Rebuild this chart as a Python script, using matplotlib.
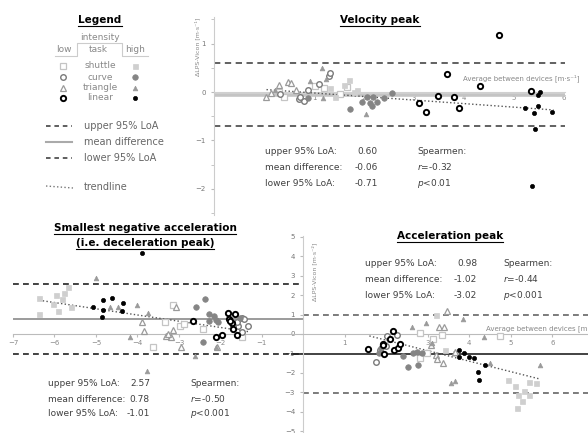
import numpy as np
import matplotlib
matplotlib.use("Agg")
import matplotlib.pyplot as plt
from matplotlib.ticker import MultipleLocator, FixedLocator

W, H = 588, 433

# ── Dados: (média entre dispositivos, diferença LPS-Vicon) ───────────────────
# Velocity peak [m/s]
vel_shuttle_lo = [(0.39, -0.10), (1.02, 0.12), (1.20, 0.08), (1.52, -0.04), (1.65, 0.10), (0.29, 0.01)]
vel_shuttle_hi = [(1.70, 0.25), (1.59, 0.14), (1.42, -0.10), (1.79, 0.01), (1.85, 0.05), (1.32, 0.08)]
vel_curve_lo = [(0.87, 0.04), (1.09, 0.16), (1.30, 0.34), (1.32, 0.40), (0.70, -0.15),
                (0.79, -0.18), (0.72, -0.10), (0.32, -0.04)]
vel_curve_hi = [(1.72, -0.36), (1.95, -0.20), (2.05, -0.10), (2.12, -0.23), (2.15, -0.29),
                (2.17, -0.10), (2.25, -0.20), (2.39, -0.12), (2.55, -0.01), (0.87, -0.13)]
vel_triangle_lo = [(0.04, -0.11), (0.30, 0.14), (0.47, 0.20), (0.53, 0.18), (0.63, 0.05), (0.13, -0.03)]
vel_triangle_hi = [(1.15, 0.49), (0.91, 0.23), (1.17, -0.13), (1.23, 0.27), (2.04, -0.46), (0.22, 0.05)]
vel_linear_lo = [(3.09, -0.23), (3.23, -0.42), (3.47, -0.08), (3.79, -0.11), (3.89, -0.34),
                 (3.65, 0.37), (4.32, 0.12), (4.70, 1.18), (5.34, 0.03)]
vel_linear_hi = [(5.22, -0.34), (5.40, -0.43), (5.47, -0.06), (5.47, -0.29), (5.52, 0.01),
                 (5.42, -0.77), (5.35, -1.94), (5.75, -0.42)]
vel_trend = [(0.05, 0.05), (5.79, -0.37)]
vel_loa = [0.60, -0.06, -0.71]          # upper, mean, lower
vel_spearman = ["-0.32", "<0.01"]

# Smallest negative acceleration [m/s²]
dec_shuttle_lo = [(-3.15, 1.49), (-3.62, -0.65), (-3.34, 0.63), (-2.98, 0.41), (-2.43, 0.24),
                  (-1.49, -0.17), (-2.88, 0.51)]
dec_shuttle_hi = [(-6.37, 1.88), (-5.96, 2.00), (-5.83, 1.78), (-5.77, 2.12), (-5.67, 2.43),
                  (-6.04, 1.57), (-5.91, 1.20), (-6.37, 1.03), (-5.59, 1.40)]
dec_curve_lo = [(-1.57, 0.41), (-1.49, 0.80), (-1.43, 0.79), (-1.33, 0.41), (-1.49, 0.12),
                (-1.69, 0.41), (-1.61, 0.63)]
dec_curve_hi = [(-2.36, 1.78), (-2.60, 1.37), (-2.27, 1.03), (-2.15, 0.92), (-2.27, 0.68),
                (-2.11, 0.72), (-2.05, 0.63), (-2.41, -0.39), (-1.53, 0.85)]
dec_triangle_lo = [(-3.06, 1.37), (-3.88, 0.63), (-3.84, 0.15), (-3.30, -0.10), (-3.18, -0.17),
                   (-3.14, 0.21), (-3.26, 0.00), (-2.94, -0.68), (-2.09, -0.68)]
dec_triangle_hi = [(-5.00, 2.91), (-4.46, 1.37), (-4.00, 1.49), (-3.74, 1.06), (-4.18, -0.14),
                   (-4.66, 1.37), (-2.61, -1.13), (-3.78, -1.93), (-2.11, -0.65)]
dec_linear_lo = [(-2.67, 0.68), (-2.11, -0.17), (-1.97, -0.05), (-1.81, 1.06), (-1.65, 1.03),
                 (-1.80, 0.75), (-1.73, 0.55), (-1.69, 0.24), (-1.60, -0.05), (-1.77, 0.68)]
dec_linear_hi = [(-3.90, 4.17), (-5.08, 1.37), (-4.84, 1.74), (-4.62, 1.88), (-4.34, 1.61),
                 (-4.82, 1.23), (-4.86, 0.89), (-4.38, 1.20)]
dec_trend = [(-6.37, 1.74), (-1.32, 0.12)]
dec_loa = [2.57, 0.78, -1.01]
dec_spearman = ["-0.50", "<0.001"]

# Acceleration peak [m/s²]
acc_shuttle_lo = [(2.81, 0.07), (3.13, -0.27), (2.82, -1.25), (3.33, -0.05), (4.75, -0.09), (2.97, -0.99)]
acc_shuttle_hi = [(3.19, 0.97), (3.41, -0.82), (3.65, -0.99), (4.93, -2.39), (5.10, -2.70),
                  (5.18, -3.13), (5.28, -3.47), (5.14, -3.81), (5.44, -3.13), (5.44, -2.48),
                  (5.60, -2.53), (5.31, -2.96)]
acc_curve_lo = [(1.75, -1.42), (1.84, -0.85), (1.99, -0.62), (2.02, -0.10), (2.25, -0.05)]
acc_curve_hi = [(1.83, -0.99), (1.88, -0.74), (2.39, -1.13), (2.53, -1.68), (2.77, -1.61),
                (2.65, -0.96), (2.73, -0.92), (2.87, -0.96)]
acc_triangle_lo = [(3.47, 1.20), (3.27, 0.38), (3.39, 0.34), (3.07, -0.56), (3.19, -1.08),
                   (3.37, -1.47), (3.65, -0.94), (3.21, -1.30)]
acc_triangle_hi = [(2.61, 0.38), (2.95, 0.55), (3.84, 0.75), (4.35, -0.17), (3.55, -2.50),
                   (3.65, -2.44), (4.49, -1.50), (5.70, -1.59), (3.09, -0.44)]
acc_linear_lo = [(1.56, -0.79), (1.91, -0.51), (1.94, -1.03), (2.08, -0.27), (2.15, 0.17),
                 (2.18, -0.82), (2.28, -0.74), (2.33, -0.51), (1.92, -0.56)]
acc_linear_hi = [(3.75, -0.85), (3.75, -1.20), (3.87, -0.99), (3.99, -1.21), (4.11, -1.26),
                 (4.37, -1.59), (4.21, -1.97), (4.24, -2.39)]
acc_trend = [(1.59, -0.10), (5.70, -2.32)]
acc_loa = [0.98, -1.02, -3.02]
acc_spearman = ["-0.44", "<0.001"]

vel_xticks = [1, 2, 3, 4, 5, 6]
bot_xticks = [-7, -6, -5, -4, -3, -2, -1, 1, 2, 3, 4, 5, 6]
bot_yticks = [-5, -4, -3, -2, -1, 0, 1, 2, 3, 4, 5]

# ── Estilos dos marcadores ───────────────────────────────────────────────────
STYLE = {
    "shuttle_lo":  dict(marker="s", ms=4.0, mfc="white", mec="#c4c4c4", mew=0.9),
    "shuttle_hi":  dict(marker="s", ms=3.6, mfc="#cfcfcf", mec="#cfcfcf", mew=0.5),
    "curve_lo":    dict(marker="o", ms=4.0, mfc="white", mec="#7a7a7a", mew=1.0),
    "curve_hi":    dict(marker="o", ms=4.0, mfc="#858585", mec="#858585", mew=0.5),
    "triangle_lo": dict(marker="^", ms=4.6, mfc="white", mec="#9a9a9a", mew=0.9),
    "triangle_hi": dict(marker="^", ms=3.4, mfc="#9a9a9a", mec="#9a9a9a", mew=0.5),
    "linear_lo":   dict(marker="o", ms=3.8, mfc="white", mec="black", mew=1.4),
    "linear_hi":   dict(marker="o", ms=3.0, mfc="black", mec="black", mew=0.5),
}
TXT = "#404040"
FS = 6.5


def px_rect(x0, y0, x1, y1):
    return [x0 / W, 1 - y1 / H, (x1 - x0) / W, (y1 - y0) / H]


def draw_points(ax, groups):
    for key, pts in groups.items():
        xy = np.array(pts)
        ax.plot(xy[:, 0], xy[:, 1], linestyle="none", zorder=4, **STYLE[key])


fig = plt.figure(figsize=(W / 100, H / 100), dpi=100)

# camada de texto/legenda em coordenadas de pixel
lg = fig.add_axes([0, 0, 1, 1])
lg.set_xlim(0, W)
lg.set_ylim(H, 0)
lg.axis("off")

# ── Velocity peak ────────────────────────────────────────────────────────────
ax_v = fig.add_axes(px_rect(214, 17, 565, 215))
ax_v.patch.set_visible(False)
ax_v.set_xlim(-1.0, 6.02)
ax_v.set_ylim(-2.54, 1.55)
for s in ["top", "right"]:
    ax_v.spines[s].set_visible(False)
ax_v.spines["left"].set_color("#cccccc")
ax_v.spines["bottom"].set_position(("data", 0))
ax_v.spines["bottom"].set_color("#d0d0d0")
ax_v.xaxis.set_major_locator(FixedLocator(vel_xticks))
ax_v.yaxis.set_major_locator(MultipleLocator(1))
ax_v.yaxis.set_minor_locator(MultipleLocator(0.5))
ax_v.tick_params(axis="y", which="both", colors="#bbbbbb", labelcolor="#777777", labelsize=5, length=2.5)
ax_v.tick_params(axis="x", length=0, labelcolor="#888888", labelsize=5, pad=2)

ax_v.axhline(vel_loa[0], color="#555555", lw=1.3, dashes=(3.5, 2.5))
ax_v.axhline(vel_loa[1], color="#c4c4c4", lw=2.6, zorder=2)
ax_v.axhline(vel_loa[2], color="#555555", lw=1.3, dashes=(3.5, 2.5))
tv = np.array(vel_trend)
ax_v.plot(tv[:, 0], tv[:, 1], ":", color="#555555", lw=1.0, zorder=3)
draw_points(ax_v, {
    "shuttle_lo": vel_shuttle_lo, "shuttle_hi": vel_shuttle_hi,
    "curve_lo": vel_curve_lo, "curve_hi": vel_curve_hi,
    "triangle_lo": vel_triangle_lo, "triangle_hi": vel_triangle_hi,
    "linear_lo": vel_linear_lo, "linear_hi": vel_linear_hi,
})

# ── Deceleration + acceleration (eixo comum) ─────────────────────────────────
ax_b = fig.add_axes(px_rect(13, 236, 588, 432))
ax_b.patch.set_visible(False)
ax_b.set_xlim(-7.0, 6.86)
ax_b.set_ylim(-5.05, 5.05)
for s in ["top", "right"]:
    ax_b.spines[s].set_visible(False)
ax_b.spines["left"].set_position(("data", 0))
ax_b.spines["left"].set_color("#cccccc")
ax_b.spines["bottom"].set_position(("data", 0))
ax_b.spines["bottom"].set_color("#bbbbbb")
ax_b.xaxis.set_major_locator(FixedLocator(bot_xticks))
ax_b.yaxis.set_major_locator(FixedLocator(bot_yticks))
ax_b.tick_params(axis="y", colors="#bbbbbb", labelcolor="#777777", labelsize=5, length=2.5)
ax_b.tick_params(axis="x", colors="#bbbbbb", labelcolor="#888888", labelsize=5, length=2, pad=2)

x_min, x_max = ax_b.get_xlim()
ax_b.hlines([dec_loa[0], dec_loa[2]], x_min, 0, colors="#222222", lw=1.2, linestyles=(0, (3.5, 2.5)))
ax_b.hlines(dec_loa[1], x_min, 0, colors="#8a8a8a", lw=1.2)
ax_b.hlines([acc_loa[0], acc_loa[2]], 0, x_max, colors="#666666", lw=1.2, linestyles=(0, (3.5, 2.5)))
ax_b.hlines(acc_loa[1], -0.3, x_max, colors="#222222", lw=1.2)
for tr in (dec_trend, acc_trend):
    t = np.array(tr)
    ax_b.plot(t[:, 0], t[:, 1], ":", color="#555555", lw=1.0, zorder=3)

draw_points(ax_b, {
    "shuttle_lo": dec_shuttle_lo, "shuttle_hi": dec_shuttle_hi,
    "curve_lo": dec_curve_lo, "curve_hi": dec_curve_hi,
    "triangle_lo": dec_triangle_lo, "triangle_hi": dec_triangle_hi,
    "linear_lo": dec_linear_lo, "linear_hi": dec_linear_hi,
})
draw_points(ax_b, {
    "shuttle_lo": acc_shuttle_lo, "shuttle_hi": acc_shuttle_hi,
    "curve_lo": acc_curve_lo, "curve_hi": acc_curve_hi,
    "triangle_lo": acc_triangle_lo, "triangle_hi": acc_triangle_hi,
    "linear_lo": acc_linear_lo, "linear_hi": acc_linear_hi,
})

# ── Textos dos eixos ─────────────────────────────────────────────────────────
lg.text(197, 47, "ΔLPS-Vicon [m·s⁻¹]", rotation=90, ha="center", va="center", fontsize=4.5, color="#888888")
lg.text(314, 272, "ΔLPS-Vicon [m·s⁻²]", rotation=90, ha="center", va="center", fontsize=4.5, color="#888888")
lg.text(463, 78, "Average between devices [m·s⁻¹]", ha="left", va="center", fontsize=5, color="#888888")
lg.text(486, 328, "Average between devices [m·s⁻¹]", ha="left", va="center", fontsize=5, color="#888888")

# ── Títulos ──────────────────────────────────────────────────────────────────
titles = [
    lg.text(100, 20, "Legend", ha="center", va="center", fontsize=7.5, fontweight="bold"),
    lg.text(380, 20, "Velocity peak", ha="center", va="center", fontsize=7.5, fontweight="bold"),
    lg.text(145, 228, "Smallest negative acceleration", ha="center", va="center", fontsize=7.5, fontweight="bold"),
    lg.text(145, 243, "(i.e. deceleration peak)", ha="center", va="center", fontsize=7.5, fontweight="bold"),
    lg.text(450, 236, "Acceleration peak", ha="center", va="center", fontsize=7.5, fontweight="bold"),
]

# ── Blocos de estatística ────────────────────────────────────────────────────
def draw_stats(x_lab, x_val, x_sp, ys, loa, sp):
    labels = ["upper 95% LoA:", "mean difference:", "lower 95% LoA:"]
    for lab, v, y in zip(labels, loa, ys):
        lg.text(x_lab, y, lab, ha="left", va="center", fontsize=FS, color=TXT)
        lg.text(x_val, y, f"{v:.2f}", ha="right", va="center", fontsize=FS, color=TXT)
    lg.text(x_sp, ys[0], "Spearmen:", ha="left", va="center", fontsize=FS, color=TXT)
    lg.text(x_sp, ys[1], f"$r$={sp[0]}", ha="left", va="center", fontsize=FS, color=TXT)
    lg.text(x_sp, ys[2], f"$p${sp[1]}", ha="left", va="center", fontsize=FS, color=TXT)


draw_stats(265, 378, 417, [152, 167, 184], vel_loa, vel_spearman)
draw_stats(48, 150, 190, [384, 399, 414], dec_loa, dec_spearman)
draw_stats(365, 477, 503, [263, 279, 295], acc_loa, acc_spearman)

# ── Legenda ──────────────────────────────────────────────────────────────────
LG_TXT = "#666666"
lg.text(100, 38, "intensity", ha="center", va="center", fontsize=6.5, color="#888888")
lg.text(64, 50, "low", ha="center", va="center", fontsize=6.5, color="#888888")
lg.text(98, 50, "task", ha="center", va="center", fontsize=6.5, color="#888888")
lg.text(135, 50, "high", ha="center", va="center", fontsize=6.5, color="#888888")
lg.plot([55, 77, 77, 122, 122, 148], [56, 56, 43, 43, 56, 56], color="#cccccc", lw=0.8)

tasks = ["shuttle", "curve", "triangle", "linear"]
rows_y = [66, 77, 88, 98]
for task, y in zip(tasks, rows_y):
    lg.plot([63], [y], linestyle="none", **STYLE[task + "_lo"])
    lg.plot([135], [y], linestyle="none", **STYLE[task + "_hi"])
    lg.text(100, y, task, ha="center", va="center", fontsize=6.5, color="#888888")

lg.plot([46, 72], [126, 126], color="#333333", lw=1.1, dashes=(3, 2.5))
lg.text(84, 126, "upper 95% LoA", ha="left", va="center", fontsize=7, color=LG_TXT)
lg.plot([46, 72], [142, 142], color="#aaaaaa", lw=1.5)
lg.text(84, 142, "mean difference", ha="left", va="center", fontsize=7, color=LG_TXT)
lg.plot([46, 72], [158, 158], color="#333333", lw=1.1, dashes=(3, 2.5))
lg.text(84, 158, "lower 95% LoA", ha="left", va="center", fontsize=7, color=LG_TXT)
lg.plot([46, 73], [186, 188], ":", color="#777777", lw=1.0)
lg.text(84, 187, "trendline", ha="left", va="center", fontsize=7, color=LG_TXT)

# sublinhado dos títulos
fig.canvas.draw()
inv = lg.transData.inverted()
for t in titles:
    bb = t.get_window_extent()
    (x0, y0), (x1, y1) = inv.transform([[bb.x0, bb.y0], [bb.x1, bb.y1]])
    lg.plot([x0, x1], [y0 + 0.5, y0 + 0.5], color="black", lw=0.8)

fig.savefig("out.png", dpi=100)
